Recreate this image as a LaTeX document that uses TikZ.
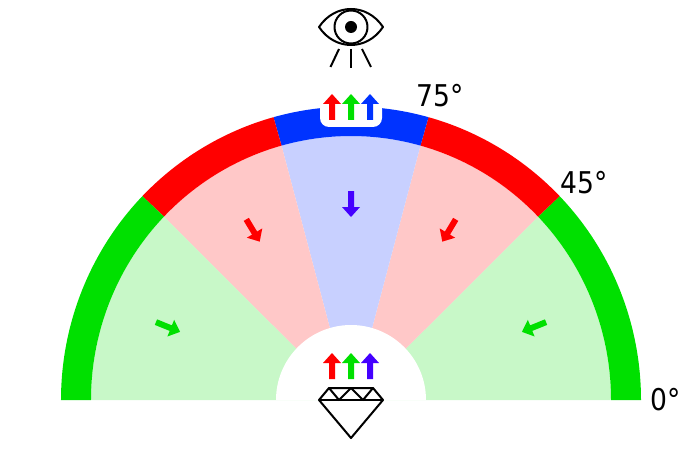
\documentclass[tikz,border=0pt]{standalone}
\usepackage{fontspec}
\setmainfont{DejaVu Sans}
\usepackage{xcolor}
\definecolor{ringgreen}{HTML}{00E000}
\definecolor{ringred}{HTML}{FF0000}
\definecolor{ringblue}{HTML}{0033FF}
\definecolor{paleg}{HTML}{C8F8C8}
\definecolor{paler}{HTML}{FFC8C8}
\definecolor{paleb}{HTML}{C8D0FF}
\definecolor{violet}{HTML}{4400FF}
\tikzset{
  ray/.pic={\fill[pic actions] (-3,-13) -- (3,-13) -- (3,3) -- (9,3) -- (0,13) -- (-9,3) -- (-3,3) -- cycle;},
  outline/.style={draw=black,line width=2pt,line join=round},
  anglabel/.style={font=\fontsize{28}{28}\selectfont,text=black,inner sep=0pt},
}
% one sector of the fan: from angle, to angle, left and right foot, colour
\newcommand{\sector}[5]{%
  \fill[#5] (#3,0) -- (#1:260 and 264) arc (#1:#2:260 and 264) -- (#4,0) -- cycle;
}
% the stretch of ring above a sector
\newcommand{\ringpart}[3]{%
  \fill[#3] (#1:260 and 264) arc (#1:#2:260 and 264) -- (#2:290 and 293.5) arc (#2:#1:290 and 293.5) -- cycle;
}
\newcommand{\tallnum}[1]{\scalebox{0.95}[1.07]{#1}}
\begin{document}
\begin{tikzpicture}[x=1pt,y=1pt]
  \useasboundingbox (-351,-50) rectangle (349,400);

  % fan
  \sector{0}{44}{3.4}{3.4}{paleg}
  \sector{44}{74.5}{3.4}{2}{paler}
  \sector{74.5}{105.5}{2}{-2}{paleb}
  \sector{105.5}{136}{-2}{-3.4}{paler}
  \sector{136}{180}{-3.4}{-3.4}{paleg}
  \fill[white] (75,0) arc (0:180:75) -- cycle;

  % ring
  \ringpart{0}{44}{ringgreen}
  \ringpart{44}{74.5}{ringred}
  \ringpart{74.5}{105.5}{ringblue}
  \ringpart{105.5}{136}{ringred}
  \ringpart{136}{180}{ringgreen}
  \fill[white,rounded corners=9pt] (-31,273) rectangle (31,300);

  % reflected light, top
  \pic[ringred]   at (-19,293) {ray};
  \pic[ringgreen] at (0,293)   {ray};
  \pic[ringblue]  at (19,293)  {ray};

  % incoming light, bottom
  \pic[ringred]   at (-19,34) {ray};
  \pic[ringgreen] at (0,34)   {ray};
  \pic[violet]    at (19,34)  {ray};

  % light inside the stone
  \pic[violet,rotate=180]     at (0,196)      {ray};
  \pic[ringred,rotate=-149]   at (-98,169.5)  {ray};
  \pic[ringred,rotate=149]    at (98,169.5)   {ray};
  \pic[ringgreen,rotate=-112] at (-183,73)    {ray};
  \pic[ringgreen,rotate=112]  at (183,73)     {ray};

  % eye
  \draw[outline] (-32,373) .. controls (-16,397) and (16,397) .. (32,373)
    .. controls (16,349) and (-16,349) .. cycle;
  \draw[outline] (0,373) circle (16.5);
  \fill[black] (0,373) circle (6);
  \draw[outline] (-12,351) -- (-20.5,333);
  \draw[outline] (0,351) -- (0,332);
  \draw[outline] (11,351) -- (20,333);

  % diamond
  \draw[outline] (-22,12) -- (22,12) -- (32,0) -- (0,-38) -- (-32,0) -- cycle;
  \draw[outline] (-32,0) -- (32,0);
  \draw[outline] (-22,12) -- (-12,0) -- (0,12) -- (12,0) -- (22,12);

  % angles
  \node[anglabel] (a75) at (89.5,304) {\tallnum{75°}};
  \node[anglabel] (a45) at (233,217.5) {\tallnum{45°}};
  \node[anglabel] (a0)  at (314.5,0)  {\tallnum{0°}};
\end{tikzpicture}
\end{document}
